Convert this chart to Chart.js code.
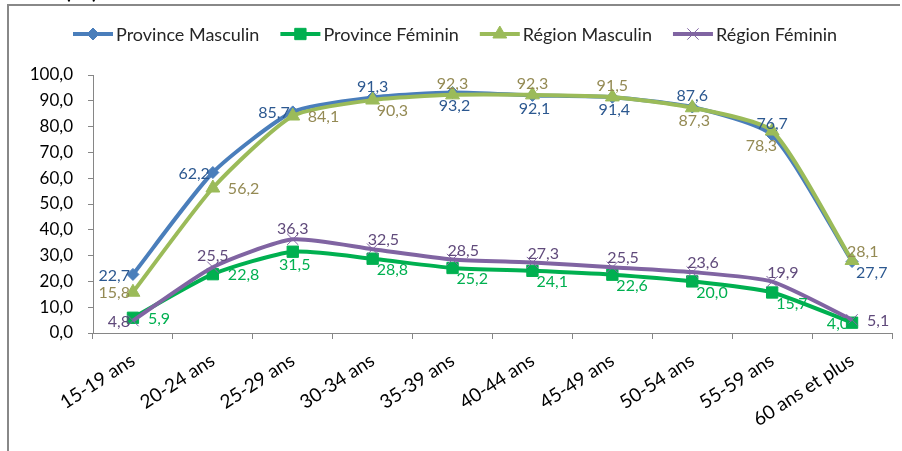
<!DOCTYPE html>
<html>
<head>
<meta charset="utf-8">
<script src="https://cdn.jsdelivr.net/npm/chart.js@4.4.0/dist/chart.umd.min.js"></script>
<style>
  html, body { margin: 0; padding: 0; background: #fff; }
  #wrap { width: 902px; height: 451px; }
</style>
</head>
<body>
<div id="wrap"><canvas id="chart" width="902" height="451"></canvas></div>
<script>
// taux d'activité par groupe d'âge (%)
const categories = ['15-19 ans', '20-24 ans', '25-29 ans', '30-34 ans', '35-39 ans',
                    '40-44 ans', '45-49 ans', '50-54 ans', '55-59 ans', '60 ans et plus'];
const provinceMasculin = [22.7, 62.2, 85.7, 91.3, 93.2, 92.1, 91.4, 87.6, 76.7, 27.7];
const provinceFeminin  = [5.9, 22.8, 31.5, 28.8, 25.2, 24.1, 22.6, 20.0, 15.7, 4.0];
const regionMasculin   = [15.8, 56.2, 84.1, 90.3, 92.3, 92.3, 91.5, 87.3, 78.3, 28.1];
const regionFeminin    = [4.8, 25.5, 36.3, 32.5, 28.5, 27.3, 25.5, 23.6, 19.9, 5.1];
const seriesNames = ['Province Masculin', 'Province Féminin', 'Région Masculin', 'Région Féminin'];

// où poser chaque étiquette par rapport au point
const pmPlace = ['l', 'l', 'l', 'a', 'b', 'b', 'b', 'a', 'a', 'br'];
const pfPlace = ['r', 'r', 'b', 'br', 'br', 'br', 'br', 'br', 'br', 'l'];
const rmPlace = ['l', 'r', 'r', 'br', 'a', 'a', 'a', 'b', 'bl', 'ar'];
const rfPlace = ['l', 'a', 'a', 'ar', 'ar', 'ar', 'ar', 'ar', 'ar', 'r'];

const FONT = 'Lato, "Open Sans", sans-serif';
const fmt = v => v.toFixed(1).replace('.', ',');

function makeSet(label, data, color, labelColor, style, radius, place, order) {
    return {
        label, data, order,
        borderColor: color, backgroundColor: color,
        borderWidth: 4, tension: 0.2,
        pointStyle: style, pointRadius: radius, pointHoverRadius: radius,
        pointBorderWidth: 1, pointBackgroundColor: color, pointBorderColor: color,
        labelColor, labelPlace: place
    };
}

const datasets = [
    makeSet(seriesNames[0], provinceMasculin, '#4A7EBB', '#2C5890', 'rectRot', 6, pmPlace, 4),
    makeSet(seriesNames[1], provinceFeminin, '#00B050', '#00B050', 'rect', 8, pfPlace, 3),
    makeSet(seriesNames[2], regionMasculin, '#9BBB59', '#948A54', 'triangle', 8, rmPlace, 2),
    makeSet(seriesNames[3], regionFeminin, '#8064A2', '#604A7B', 'crossRot', 8, rfPlace, 1)
];

const framePlugin = {
    id: 'frame',
    beforeDraw(chart) {
        const ctx = chart.ctx;
        ctx.save();
        ctx.fillStyle = '#fff';
        ctx.fillRect(0, 0, chart.width, chart.height);
        ctx.fillStyle = '#000';
        ctx.font = '26px ' + FONT;
        ctx.textBaseline = 'alphabetic';
        ctx.fillText('(%)', 64, -2);
        ctx.strokeStyle = '#888';
        ctx.lineWidth = 2;
        ctx.beginPath();
        ctx.moveTo(8, 451); ctx.lineTo(8, 5); ctx.lineTo(900, 5);
        ctx.stroke();
        ctx.restore();
    }
};

const legendPlugin = {
    id: 'lineLegend',
    afterDraw(chart) {
        const ctx = chart.ctx;
        ctx.save();
        ctx.font = '18px ' + FONT;
        ctx.textBaseline = 'middle';
        let x = 73;
        const y = 34;
        chart.data.datasets.forEach(ds => {
            ctx.strokeStyle = ds.borderColor;
            ctx.fillStyle = ds.borderColor;
            ctx.lineWidth = 4;
            ctx.beginPath(); ctx.moveTo(x, y); ctx.lineTo(x + 40, y); ctx.stroke();
            ctx.lineWidth = ds.pointBorderWidth;
            Chart.helpers.drawPoint(ctx, { pointStyle: ds.pointStyle, radius: ds.pointRadius, rotation: 0, borderWidth: ds.pointBorderWidth }, x + 20, y);
            ctx.fillStyle = '#262626';
            ctx.fillText(ds.label, x + 43, y + 1);
            x += 43 + ctx.measureText(ds.label).width + 21;
        });
        ctx.restore();
    }
};

const labelPlugin = {
    id: 'pointLabels',
    afterDatasetsDraw(chart) {
        const ctx = chart.ctx;
        ctx.save();
        ctx.font = '16px ' + FONT;
        ctx.textBaseline = 'middle';
        chart.data.datasets.forEach((ds, i) => {
            const meta = chart.getDatasetMeta(i);
            ctx.fillStyle = ds.labelColor;
            meta.data.forEach((pt, j) => {
                const p = ds.labelPlace[j];
                let x = pt.x, y = pt.y, align = 'center';
                if (p === 'l') { align = 'right'; x -= 3; y += 1; }
                else if (p === 'r') { align = 'left'; x += 15; y += 1; }
                else if (p === 'a') { y -= 11; }
                else if (p === 'b') { x += 2; y += 13; }
                else if (p === 'ar') { align = 'left'; x -= 5; y -= 9; }
                else if (p === 'br') { align = 'left'; x += 4; y += 11; }
                else if (p === 'bl') { align = 'right'; x += 5; y += 15; }
                ctx.textAlign = align;
                ctx.fillText(fmt(ds.data[j]), x, y);
            });
        });
        ctx.restore();
    }
};

new Chart(document.getElementById('chart').getContext('2d'), {
    type: 'line',
    data: { labels: categories, datasets },
    plugins: [framePlugin, labelPlugin, legendPlugin],
    options: {
        responsive: false,
        devicePixelRatio: 1,
        animation: false,
        layout: { padding: { top: 75, left: 0, right: 10, bottom: 0 } },
        plugins: { legend: { display: false }, tooltip: { enabled: false } },
        scales: {
            x: {
                offset: true,
                grid: { offset: true, drawOnChartArea: false, tickLength: 6, color: '#868686' },
                border: { color: '#868686' },
                ticks: { minRotation: 33, maxRotation: 33, color: '#000', font: { family: FONT, size: 19 }, padding: 10 },
                afterFit(scale) { scale.height = 118; }
            },
            y: {
                min: 0, max: 100,
                grid: { drawOnChartArea: false, tickLength: 5, color: '#868686' },
                border: { color: '#868686' },
                ticks: { stepSize: 10, color: '#000', padding: 15, font: { family: FONT, size: 17 }, callback: v => fmt(v) },
                afterFit(scale) { scale.width = 93; }
            }
        }
    }
});
</script>
</body>
</html>
